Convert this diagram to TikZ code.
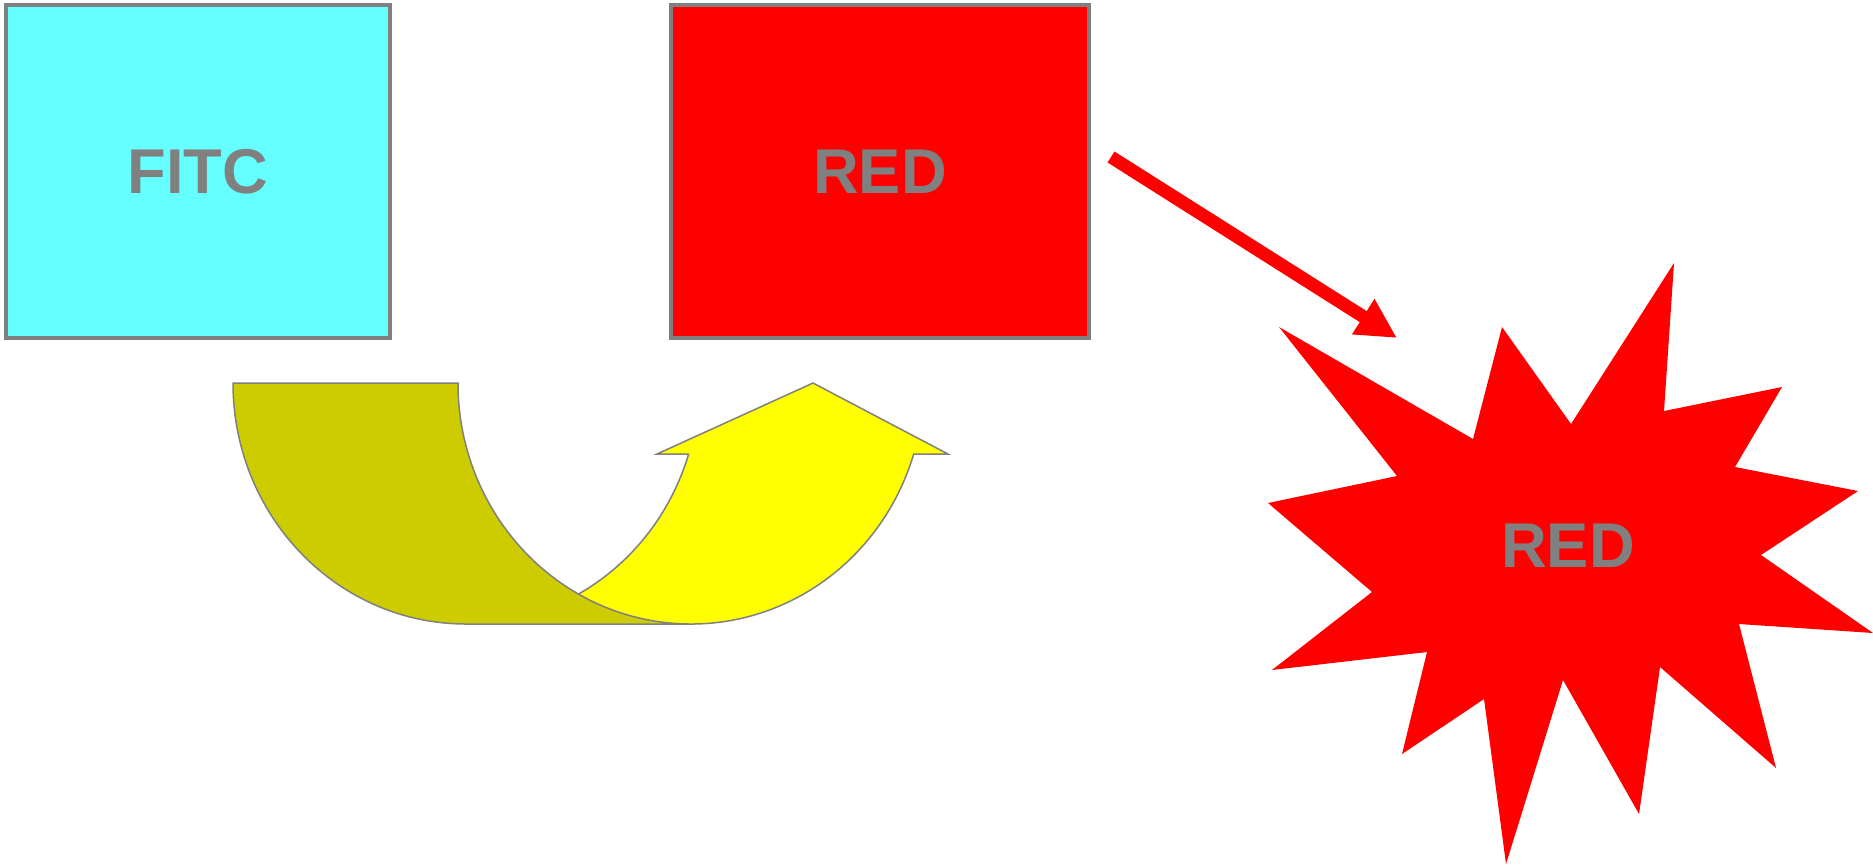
\documentclass[tikz,border=0pt]{standalone}
\usepackage{fontspec}
\setmainfont{Liberation Sans}
\usetikzlibrary{arrows.meta}
\definecolor{boxgray}{RGB}{128,128,128}
\definecolor{fitccyan}{RGB}{102,255,255}
\definecolor{pureRed}{RGB}{255,0,0}
\definecolor{bandyellow}{RGB}{255,255,0}
\definecolor{bandolive}{RGB}{204,204,0}

\begin{document}
\begin{tikzpicture}[x=0.1mm,y=0.1mm,>={Triangle[length=4mm,width=3.9mm]},
  labelbox/.style={draw=boxgray,line width=0.4mm,inner sep=0pt,minimum height=33.3mm,
    text=boxgray,font=\fontsize{18}{21}\selectfont\bfseries},
  band/.style={draw=boxgray,line width=0.15mm}]
  \def\rx{23.3mm}
  \def\ry{24.1mm}
  \useasboundingbox (0,0) rectangle (1873,864);
  % boxes
  \node[labelbox,fill=fitccyan,minimum width=38.45mm] (fitc) at (197.75,692.5) {FITC};
  \node[labelbox,fill=pureRed,minimum width=41.8mm] (redbox) at (880,692.5) {RED};
  % curved up arrow
  \fill[bandyellow] (688.7,410) -- (657,410) -- (813,481) -- (948,410) -- (913.7,410)
    arc[start angle=-17.13,end angle=-90,x radius=\rx,y radius=\ry] -- (466,240)
    arc[start angle=-90,end angle=-17.13,x radius=\rx,y radius=\ry] -- cycle;
  \draw[band] (688.7,410) -- (657,410) -- (813,481) -- (948,410) -- (913.7,410)
    arc[start angle=-17.13,end angle=-90,x radius=\rx,y radius=\ry];
  \draw[band] (466,240) arc[start angle=-90,end angle=-17.13,x radius=\rx,y radius=\ry];
  \draw[band,fill=bandolive] (233,481) arc[start angle=180,end angle=270,x radius=\rx,y radius=\ry]
    -- (691,240) arc[start angle=270,end angle=180,x radius=\rx,y radius=\ry] -- cycle;
  % arrow
  \coordinate (arrowstart) at (1111,707);
  \coordinate (arrowtip) at (1397,526);
  \draw[->,pureRed,line width=1.3mm] (arrowstart) -- (arrowtip);
  % burst
  \fill[pureRed] (1674,601) -- (1664,453) -- (1782,477) -- (1735,397) -- (1858,373)
    -- (1761,309) -- (1873,231) -- (1739,240) -- (1776,96) -- (1660,197) -- (1639,50)
    -- (1563,184) -- (1506,0) -- (1484,165) -- (1402,110) -- (1427,212) -- (1272,194)
    -- (1372,272) -- (1268,361) -- (1397,388) -- (1279,537) -- (1473,425) -- (1502,537)
    -- (1571,440) -- cycle;
  \node[text=boxgray,font=\fontsize{18}{21}\selectfont\bfseries] (burst) at (1568,318) {RED};
\end{tikzpicture}
\end{document}
